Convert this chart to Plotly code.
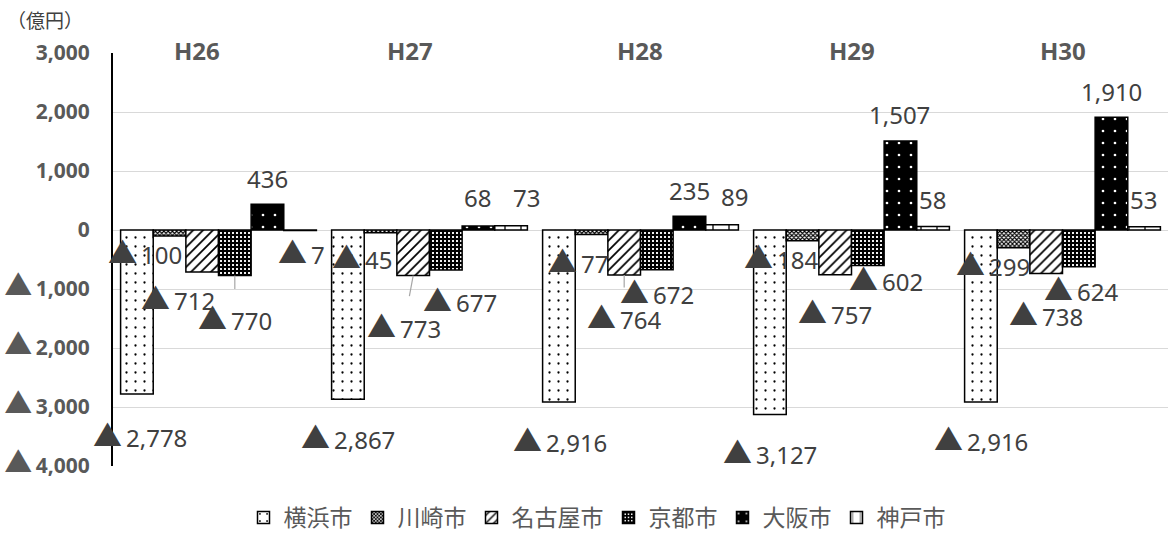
import plotly.graph_objects as go

# ---------------- data ----------------
years = ["H26", "H27", "H28", "H29", "H30"]
cities = ["横浜市", "川崎市", "名古屋市", "京都市", "大阪市", "神戸市"]
yokohama = [-2778, -2867, -2916, -3127, -2916]
kawasaki = [-100, -45, -77, -184, -299]
nagoya = [-712, -773, -764, -757, -738]
kyoto = [-770, -677, -672, -602, -624]
osaka = [436, 68, 235, 1507, 1910]
kobe = [-7, 73, 89, 58, 53]
y_tick_values = [3000, 2000, 1000, 0, -1000, -2000, -3000, -4000]
unit_label = "（億円）"

series = [yokohama, kawasaki, nagoya, kyoto, osaka, kobe]

# ---------------- styles / label layout ----------------
BARGAP = 0.072
LABEL_COLOR = "#404040"
AXIS_TEXT = "#595959"
FONT = "Noto Sans, Noto Sans CJK JP"

patterns = [
    dict(shape=".", fgcolor="black", bgcolor="white", size=9, solidity=0.05),
    dict(shape="x", fgcolor="black", bgcolor="white", size=3, solidity=0.6),
    dict(shape="/", fgcolor="black", bgcolor="white", size=7, solidity=0.25),
    dict(shape="+", fgcolor="black", bgcolor="white", size=4, solidity=0.78),
    dict(shape=".", fgcolor="white", bgcolor="black", size=12, solidity=0.04),
    dict(shape="|", fgcolor="black", bgcolor="white", size=16, solidity=0.08),
]

# pixel offsets of each data label from its bar end (dx right, dy down)
label_dx = [
    [3, 0, 1, 0, 0],
    [-25, -19, -14, -22, -21],
    [-24, -9, 0, 0, 0],
    [0, 14, 0, 18, 2],
    [0, -1, 0, -1, 0],
    [1, 15, 12, -1, -1],
]
label_dy = [
    [40, 37, 37, 37, 36],
    [15, 23, 25, 15, 15],
    [25, 49, 41, 36, 39],
    [42, 29, 21, 12, 21],
    [-26, -28, -26, -27, -26],
    [21, -28, -28, -27, -27],
]
leaders = {(3, 0), (2, 1), (2, 2)}  # (series, year) with leader line
cat_dx = [-22, -20, -1, 0, 0]


def tri(size):
    return f"<span style=\"font-family:'Noto Sans CJK JP';font-size:{size}px\">▲</span>"


def fmt(v, size=29):
    return f"{tri(size)}\u2009{-v:,}" if v < 0 else f"{v:,}"


xpos = list(range(len(years)))
n = len(cities)
bw = (1 - BARGAP) / n

fig = go.Figure()
for j, (name, vals) in enumerate(zip(cities, series)):
    fig.add_trace(go.Bar(
        x=xpos, y=vals, name=name,
        marker=dict(color="white", line=dict(color="black", width=1.5),
                    pattern=dict(fillmode="replace", **patterns[j])),
        hoverinfo="skip",
    ))

annotations = []
for j, vals in enumerate(series):
    for i, v in enumerate(vals):
        xb = xpos[i] + (j - (n - 1) / 2) * bw
        if (j, i) in leaders:
            annotations.append(dict(
                x=xb, y=v, xref="x", yref="y", text=fmt(v),
                showarrow=True, arrowhead=0, arrowwidth=1.2, arrowcolor="#a6a6a6",
                ax=label_dx[j][i], ay=label_dy[j][i], startstandoff=6,
                font=dict(family=FONT, size=24, color=LABEL_COLOR),
            ))
        else:
            annotations.append(dict(
                x=xb, y=v, xref="x", yref="y", text=fmt(v), showarrow=False,
                xshift=label_dx[j][i], yshift=-label_dy[j][i],
                xanchor="center", yanchor="middle",
                font=dict(family=FONT, size=24, color=LABEL_COLOR),
            ))

for i, yr in enumerate(years):
    annotations.append(dict(
        x=xpos[i], y=y_tick_values[0], xref="x", yref="y", text=yr, showarrow=False,
        xshift=cat_dx[i], yshift=3, xanchor="center", yanchor="middle",
        font=dict(family=FONT, size=24, color=AXIS_TEXT, weight="bold"),
    ))

annotations.append(dict(
    x=(5 - 113) / 1055, y=(470 - 19) / 417, xref="paper", yref="paper",
    text=unit_label, showarrow=False, xanchor="left", yanchor="middle",
    font=dict(family="Noto Sans CJK JP", size=19, color=LABEL_COLOR),
))

fig.update_layout(
    width=1170, height=541,
    margin=dict(l=113, r=2, t=53, b=71),
    paper_bgcolor="white", plot_bgcolor="white",
    barmode="group", bargap=BARGAP, bargroupgap=0,
    showlegend=True,
    legend=dict(orientation="h", x=(597 - 113) / 1055, xanchor="center",
                y=(470 - 522) / 417, yanchor="middle",
                font=dict(family="Noto Sans CJK JP", size=23, color=AXIS_TEXT)),
    annotations=annotations,
    xaxis=dict(range=[-0.5, len(years) - 0.5], showgrid=False, zeroline=False,
               showticklabels=False, showline=False, fixedrange=True,
               automargin=False),
    yaxis=dict(range=[y_tick_values[-1], y_tick_values[0]],
               tickmode="array", tickvals=y_tick_values,
               ticktext=[fmt(v, 28) for v in y_tick_values],
               tickfont=dict(family=FONT, size=21, color=AXIS_TEXT, weight="bold"),
               showgrid=True, gridcolor="#d9d9d9", gridwidth=1,
               zeroline=False, showline=True, linecolor="black", linewidth=2,
               ticks="", ticklabelstandoff=17, automargin=False),
)

fig.write_html("out.html", config={"displayModeBar": False},
               post_script="document.body.style.margin='0';")
